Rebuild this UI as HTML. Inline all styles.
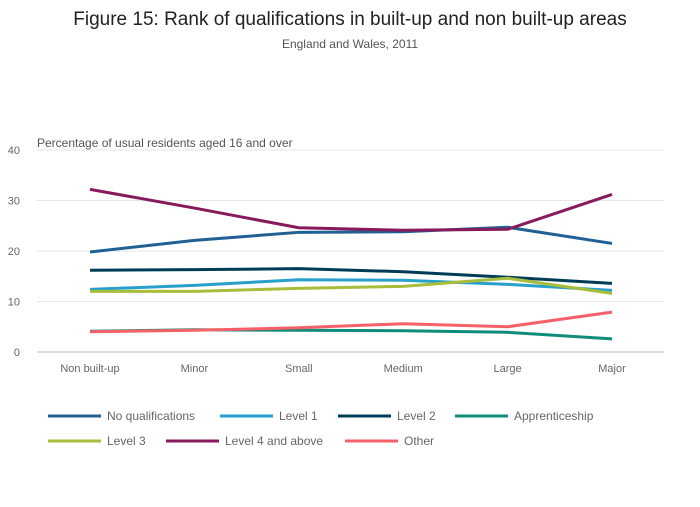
<!DOCTYPE html>
<html><head><meta charset="utf-8"><style>
body{margin:0;background:#fff;font-family:"Liberation Sans",sans-serif;}
svg text{font-family:"Liberation Sans",sans-serif;}
</style></head><body>
<svg id="c" width="700" height="502">
<text x="350" y="25" text-anchor="middle" font-size="19" fill="#222">Figure 15: Rank of qualifications in built-up and non built-up areas</text>
<text x="350" y="48" text-anchor="middle" font-size="12" fill="#555">England and Wales, 2011</text>
<text x="37" y="147" font-size="12" fill="#555">Percentage of usual residents aged 16 and over</text>
<g id="grid"></g><g id="lines"></g><g id="legend"></g>
</svg>
<script>
const categories=["Non built-up","Minor","Small","Medium","Large","Major"];
const yTicks=[0,10,20,30,40];
const seriesNames=["No qualifications","Level 1","Level 2","Apprenticeship","Level 3","Level 4 and above","Other"];
const noQual=[19.8,22.1,23.7,23.8,24.7,21.5];
const level1=[12.4,13.2,14.3,14.2,13.4,12.2];
const level2=[16.2,16.3,16.5,15.9,14.8,13.6];
const apprenticeship=[4.1,4.4,4.3,4.2,3.9,2.6];
const level3=[12.0,12.0,12.6,13.0,14.6,11.6];
const level4=[32.2,28.5,24.6,24.1,24.3,31.2];
const other=[4.0,4.3,4.8,5.6,5.0,7.9];
const series=[noQual,level1,level2,apprenticeship,level3,level4,other];
const colors=["#206095","#27a0cc","#003c57","#118c7b","#a8bd3a","#871a5b","#f66068"];
const NS="http://www.w3.org/2000/svg";
const x=i=>90+i*104.4, y=v=>352-v*5.05;
function mk(t,a,p){const e=document.createElementNS(NS,t);for(const k in a)e.setAttribute(k,a[k]);p.appendChild(e);return e;}
const g=document.getElementById('grid');
yTicks.forEach(v=>{
 const l=mk('line',{x1:37,x2:664,y1:y(v),y2:y(v),stroke:v===0?'#bbc':'#e6e6e6','stroke-width':1},g);
 
 
 const t=mk('text',{x:20,y:y(v)+4,'font-size':11,fill:'#666','text-anchor':'end'},g);t.textContent=v;
 
 
});
categories.forEach((c,i)=>{
 const t=mk('text',{x:x(i),y:372,'font-size':11,fill:'#666','text-anchor':'middle'},g);t.textContent=c;
 
 
});
const L=document.getElementById('lines');
series.forEach((s,k)=>{
 const p=mk('polyline',{points:s.map((v,i)=>x(i)+','+y(v)).join(' '),fill:'none',stroke:colors[k],'stroke-width':3,'stroke-linejoin':'round'},L);
 
 
});
const lg=document.getElementById('legend');
const pos=[[48,416],[220,416],[338,416],[455,416],[48,441],[166,441],[345,441]];
seriesNames.forEach((n,k)=>{
 const [lx,ly]=pos[k];
 const gg=mk('g',{},lg);
 
 
 mk('line',{x1:lx,x2:lx+53,y1:ly,y2:ly,stroke:colors[k],'stroke-width':3},gg);
 const t=mk('text',{x:lx+59,y:ly+4,'font-size':12,fill:'#666'},gg);t.textContent=n;
});
</script>
</body></html>
